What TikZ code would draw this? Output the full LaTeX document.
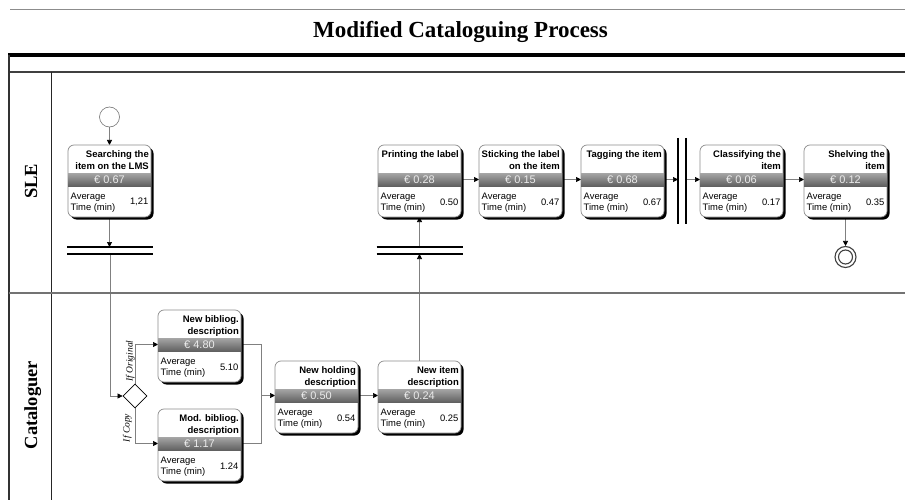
\documentclass[tikz,border=0pt]{standalone}
\usepackage{fontspec}
\setmainfont{Liberation Serif}
\setsansfont{Liberation Sans}
\usetikzlibrary{arrows.meta,shapes.geometric,shadows,backgrounds}
\tikzset{
  task/.style={draw=black!45, line width=0.7pt, rounded corners=6pt, fill=white,
    minimum width=83pt, minimum height=72pt, inner sep=0pt, outer sep=0pt,
    drop shadow={shadow xshift=2.5pt, shadow yshift=-2.5pt, fill=black, opacity=1}},
  costbar/.style={minimum width=83pt, minimum height=13pt, inner sep=0pt, outer sep=0pt,
    top color=black!35, bottom color=black!62, text=black!8,
    font=\sffamily\fontsize{11}{12}\selectfont},
  ttl/.style={anchor=north east, align=right, inner sep=0pt,
    font=\sffamily\bfseries\fontsize{9.5}{11.5}\selectfont},
  avg/.style={anchor=west, align=left, inner sep=0pt,
    font=\sffamily\fontsize{9.4}{11.5}\selectfont},
  val/.style={anchor=east, inner sep=0pt, font=\sffamily\fontsize{9.4}{11}\selectfont},
  conn/.style={draw=black!50, line width=0.6pt},
  arr/.style={conn, -{Triangle[length=5pt,width=5pt,color=black]}},
  barline/.style={line width=2.4pt, black},
  barnode/.style={inner sep=0pt, outer sep=0pt},
  cond/.style={rotate=90, anchor=base, inner sep=0pt, font=\itshape\fontsize{9.5}{10}\selectfont},
  lane/.style={rotate=90, anchor=base, inner sep=0pt, font=\bfseries\fontsize{18.5}{20}\selectfont},
}
\newcommand{\tbox}[5]{%
  \node[task, anchor=north west] (#1) at (#2) {};
  \node[costbar, anchor=north west] (#1-c) at ([yshift=-28pt]#1.north west) {€ #4};
  \node[ttl] (#1-t) at ([xshift=-2pt,yshift=-5.5pt]#1.north east) {#3};
  \node[avg] (#1-a) at ([xshift=2.5pt,yshift=-57.5pt]#1.north west) {Average\\Time (min)};
  \node[val] (#1-v) at ([xshift=-2.5pt,yshift=-57pt]#1.north east) {#5};
}
\begin{document}
\begin{tikzpicture}[x=1pt,y=-1pt]
\useasboundingbox (0,0) rectangle (905,500);
\begin{scope}[on background layer]
\fill[white] (0,0) rectangle (905,500);
\end{scope}

% frame
\draw[black!45, line width=0.8pt] (10,9) -- (905,9);
\draw[black, line width=4pt] (8,55) -- (905,55);
\draw[black!75, line width=1.2pt] (9,72) -- (905,72);
\draw[black!80, line width=1.2pt] (9,55) -- (9,500);
\draw[black!85, line width=1pt] (51.5,72) -- (51.5,500);
\draw[black!55, line width=1.6pt] (9,293) -- (905,293);

\node[font=\bfseries\fontsize{23}{26}\selectfont, anchor=base, inner sep=0pt] (title) at (460.5,38) {Modified Cataloguing Process};
\node[lane] (lsle) at (37,181.5) {SLE};
\node[lane] (lcat) at (37,405) {Cataloguer};

% tasks
\tbox{se}{68,145}{Searching the\\item on the LMS}{0.67}{1,21}
\tbox{pr}{378,145}{Printing the label}{0.28}{0.50}
\tbox{st}{479,145}{Sticking the label\\on the item}{0.15}{0.47}
\tbox{tg}{581,145}{Tagging the item}{0.68}{0.67}
\tbox{cl}{700,145}{Classifying the\\item}{0.06}{0.17}
\tbox{sh}{804,145}{Shelving the\\item}{0.12}{0.35}
\tbox{nb}{158,310}{New bibliog.\\description}{4.80}{5.10}
\tbox{mb}{158,409}{Mod. bibliog.\\description}{1.17}{1.24}
\tbox{nh}{275,361}{New holding\\description}{0.50}{0.54}
\tbox{ni}{378,361}{New item\\description}{0.24}{0.25}

% events, gateways, bars
\node[circle, draw=black!55, line width=0.6pt, fill=white, minimum size=20pt, inner sep=0pt] (start) at (109.5,117) {};
\node[circle, draw=black!75, line width=1.1pt, fill=white, minimum size=21pt, inner sep=0pt] (end) at (845.5,257) {};
\node[circle, draw=black!75, line width=1.1pt, minimum size=14pt, inner sep=0pt] (endin) at (end) {};
\node[diamond, draw=black, line width=0.8pt, fill=white, minimum width=24pt, minimum height=24pt, inner sep=0pt, aspect=1] (dia) at (135,396) {};

\node[barnode, minimum width=86pt, minimum height=7pt] (j1) at (110,250.5) {};
\draw[barline] (j1.north west) -- (j1.north east);
\draw[barline] (j1.south west) -- (j1.south east);
\node[barnode, minimum width=86pt, minimum height=7pt] (j2) at (419.5,250.5) {};
\draw[barline] (j2.north west) -- (j2.north east);
\draw[barline] (j2.south west) -- (j2.south east);
\node[barnode, minimum width=8pt, minimum height=86pt] (fk) at (682,181) {};
\draw[barline] (fk.north west) -- (fk.south west);
\draw[barline] (fk.north east) -- (fk.south east);

\node[cond] (lorig) at (132.5,361) {If Original};
\node[cond] (lcopy) at (129.5,428) {If Copy};

% connectors
\begin{scope}[on background layer]
\draw[arr] (start) -- (se);
\draw[arr] (se.south) -- (se.south |- j1.north);
\draw[arr] (j1.south) |- (dia.west);
\draw[arr] (dia.north) |- (nb-c.west);
\draw[arr] (dia.south) |- (mb-c.west);
\coordinate (m) at (261,395.5);
\draw[conn] (nb-c.east) -| (m);
\draw[conn] (mb-c.east) -| (m);
\draw[arr] (m) -- (nh-c.west);
\draw[arr] (nh-c.east) -- (ni-c.west);
\draw[arr] (ni.north) -- (ni.north |- j2.south);
\draw[arr] (pr.south |- j2.north) -- (pr.south);
\draw[arr] (pr-c.east) -- (st-c.west);
\draw[arr] (st-c.east) -- (tg-c.west);
\draw[arr] (tg-c.east) -- (tg-c.east -| fk.west);
\draw[arr] (cl-c.west -| fk.east) -- (cl-c.west);
\draw[arr] (cl-c.east) -- (sh-c.west);
\draw[arr] (sh.south) -- (end.north);
\end{scope}
\end{tikzpicture}
\end{document}
